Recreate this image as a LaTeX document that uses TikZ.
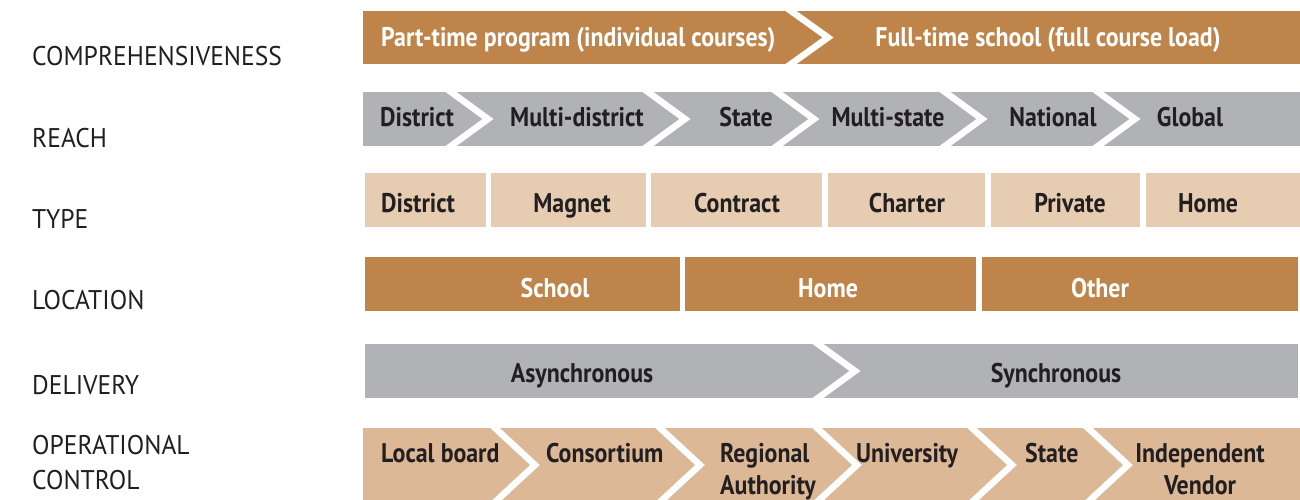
\documentclass[tikz,border=0pt]{standalone}
\usepackage{fontspec}
\setmainfont{PT Sans}[FakeStretch=0.945]
\newfontfamily\barfont{PT Sans}[FakeStretch=0.885]
\usetikzlibrary{calc}
\definecolor{orng}{RGB}{190,132,74}
\definecolor{gry}{RGB}{177,178,181}
\definecolor{ltan}{RGB}{230,204,177}
\definecolor{tan}{RGB}{220,184,150}
\definecolor{ink}{RGB}{35,31,32}
\tikzset{
  lbl/.style={anchor=base west, inner sep=0pt, text=ink, font=\fontsize{27}{35}\selectfont},
  wtxt/.style={anchor=base, inner sep=0pt, text=white, font=\barfont\bfseries\fontsize{27}{32}\selectfont},
  dtxt/.style={anchor=base, inner sep=0pt, text=ink, font=\barfont\bfseries\fontsize{27}{32}\selectfont},
  chev/.style={draw=white, line width=6.5pt, line join=miter, line cap=butt},
}
% #1 x at top, #2 top y, #3 bottom y, #4 depth
\newcommand\mychev[4]{%
  \coordinate (ct) at (#1,#2);
  \coordinate (cm) at ({#1+#4},{(#2+#3)/2});
  \coordinate (cb) at (#1,#3);
  \draw[chev] ($(cm)!1.25!(ct)$) -- (cm) -- ($(cm)!1.25!(cb)$);
}
\begin{document}
\begin{tikzpicture}[x=1pt,y=-1pt]
\useasboundingbox (0,0) rectangle (1300,500);
\clip (0,0) rectangle (1300,500);
\fill[white] (0,0) rectangle (1300,500);

% left labels
\node[lbl] (lcomp) at (32,66) {COMPREHENSIVENESS};
\node[lbl] (lreach) at (32,147) {REACH};
\node[lbl] (ltype) at (32,228) {TYPE};
\node[lbl] (lloc) at (32,309) {LOCATION};
\node[lbl] (ldel) at (32,394) {DELIVERY};
\node[lbl] (lop) at (32,454) {\begin{tabular}[t]{@{}l@{}}OPERATIONAL\\CONTROL\end{tabular}};

% Row 1: comprehensiveness
\fill[orng] (363,11) rectangle (1300,64);
\mychev{791}{11}{64}{37}
\node[wtxt, anchor=base west] (c1) at (381,47) {Part-time program (individual courses)};
\node[wtxt] (c2) at (1048,47) {Full-time school (full course load)};

% Row 2: reach
\fill[gry] (363,92) rectangle (1300,146);
\mychev{451}{92}{146}{37}
\mychev{648}{92}{146}{37}
\mychev{777}{92}{146}{37}
\mychev{945}{92}{146}{37}
\mychev{1098}{92}{146}{37}
\node[dtxt, anchor=base west] (r1) at (380,127) {District};
\node[dtxt] (r2) at (577,127) {Multi-district};
\node[dtxt] (r3) at (746,127) {State};
\node[dtxt] (r4) at (888,127) {Multi-state};
\node[dtxt] (r5) at (1053,127) {National};
\node[dtxt] (r6) at (1190,127) {Global};

% Row 3: type
\fill[ltan] (365,173) rectangle (486,227);
\fill[ltan] (491,173) rectangle (646,227);
\fill[ltan] (651,173) rectangle (822,227);
\fill[ltan] (828,173) rectangle (985,227);
\fill[ltan] (991,173) rectangle (1140,227);
\fill[ltan] (1146,173) rectangle (1300,227);
\node[dtxt, anchor=base west] (t1) at (381,212) {District};
\node[dtxt] (t2) at (572,212) {Magnet};
\node[dtxt] (t3) at (737,212) {Contract};
\node[dtxt] (t4) at (907,212) {Charter};
\node[dtxt] (t5) at (1070,212) {Private};
\node[dtxt] (t6) at (1208,212) {Home};

% Row 4: location
\fill[orng] (365,257) rectangle (680,311);
\fill[orng] (685,257) rectangle (976,311);
\fill[orng] (982,257) rectangle (1298,311);
\node[wtxt] (o1) at (555,297) {School};
\node[wtxt] (o2) at (828,297) {Home};
\node[wtxt] (o3) at (1100,297) {Other};

% Row 5: delivery
\fill[gry] (365,344) rectangle (1298,398);
\mychev{818}{344}{398}{37}
\node[dtxt] (d1) at (582,382) {Asynchronous};
\node[dtxt] (d2) at (1056,382) {Synchronous};

% Row 6: operational control
\fill[tan] (363,428) rectangle (1300,502);
\mychev{495}{428}{502}{40}
\mychev{660}{428}{502}{40}
\mychev{817}{428}{502}{40}
\mychev{972}{428}{502}{40}
\mychev{1088}{428}{502}{40}
\node[dtxt, anchor=base west] (p1) at (381,462) {Local board};
\node[dtxt, anchor=base west] (p2) at (546,462) {Consortium};
\node[dtxt, anchor=base west] (p3) at (720,462) {\begin{tabular}[t]{@{}l@{}}Regional\\Authority\end{tabular}};
\node[dtxt, anchor=base west] (p4) at (856,462) {University};
\node[dtxt, anchor=base west] (p5) at (1025,462) {State};
\node[dtxt] (p6) at (1200,462) {\begin{tabular}[t]{@{}c@{}}Independent\\Vendor\end{tabular}};
\end{tikzpicture}
\end{document}
